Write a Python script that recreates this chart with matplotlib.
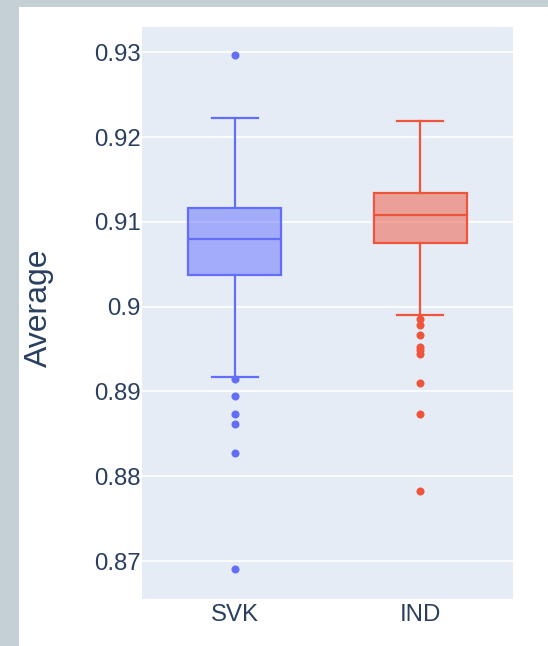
import matplotlib
matplotlib.use('Agg')
import matplotlib.pyplot as plt
from matplotlib.patches import Rectangle
from matplotlib.colors import to_rgba

# box statistics (plotly-style box plot)
countries = ['SVK', 'IND']
q1 = [0.90372, 0.90746]
median = [0.90793, 0.91076]
q3 = [0.91159, 0.91339]
whisker_low = [0.89176, 0.89903]
whisker_high = [0.92221, 0.92193]
outliers_svk = [0.92965, 0.89141, 0.88947, 0.88731, 0.88621, 0.88279, 0.86903]
outliers_ind = [0.89852, 0.89782, 0.89667, 0.89525, 0.89486, 0.89440, 0.89101, 0.88731, 0.87831]
colors = ['#636efa', '#EF553B']

y_ticks = [0.87, 0.88, 0.89, 0.90, 0.91, 0.92, 0.93]
y_tick_labels = ['0.87', '0.88', '0.89', '0.9', '0.91', '0.92', '0.93']

TEXT = '#2a3f5f'
PLOT_BG = '#e5ecf6'
W, H = 548, 646

fig = plt.figure(figsize=(W / 100, H / 100), dpi=100)
fig.patch.set_facecolor('#c5d0d5')
fig.patches.append(Rectangle((19 / W, 0), 1 - 19 / W, 1 - 7 / H, transform=fig.transFigure,
                             facecolor='white', edgecolor='none', zorder=-10))

ax = fig.add_axes([142 / W, (H - 599) / H, 371 / W, 572 / H])
ax.set_facecolor(PLOT_BG)

stats = []
for i, name in enumerate(countries):
    stats.append({
        'label': name,
        'q1': q1[i], 'med': median[i], 'q3': q3[i],
        'whislo': whisker_low[i], 'whishi': whisker_high[i],
        'fliers': outliers_svk if i == 0 else outliers_ind,
    })

for i, st in enumerate(stats):
    c = colors[i]
    ax.bxp(
        [st], positions=[i], widths=0.5, patch_artist=True, manage_ticks=False,
        boxprops=dict(facecolor=to_rgba(c, 0.5), edgecolor=c, linewidth=1.6),
        medianprops=dict(color=c, linewidth=1.6),
        whiskerprops=dict(color=c, linewidth=1.6),
        capprops=dict(color=c, linewidth=1.6),
        capwidths=0.25,
        flierprops=dict(marker='o', markersize=5.8, markerfacecolor=c, markeredgecolor='none'),
    )

ax.set_xlim(-0.5, 1.5)
ax.set_ylim(0.86552, 0.93298)
ax.set_xticks(range(len(countries)))
ax.set_xticklabels(countries)
ax.set_yticks(y_ticks)
ax.set_yticklabels(y_tick_labels)
ax.grid(axis='y', color='white', linewidth=1.2)
ax.set_axisbelow(True)
for s in ax.spines.values():
    s.set_visible(False)
ax.tick_params(axis='both', length=0, colors=TEXT, labelsize=17.3)
ax.tick_params(axis='y', pad=1)
ax.tick_params(axis='x', pad=3.5)
for lab in ax.get_xticklabels() + ax.get_yticklabels():
    lab.set_fontfamily('Liberation Sans')

fig.text(39 / W, 1 - 308 / H, 'Average', rotation=90, ha='center', va='center',
         fontsize=23, color=TEXT, family='Liberation Sans')

fig.savefig('out.png', dpi=100, facecolor=fig.get_facecolor())
